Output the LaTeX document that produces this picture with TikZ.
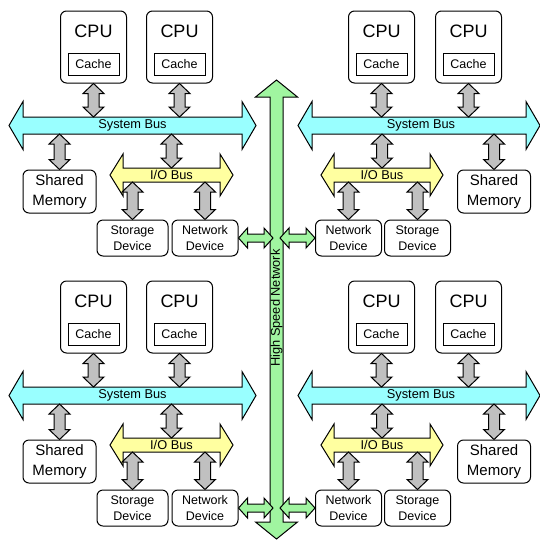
\documentclass[tikz,border=0pt]{standalone}
\usepackage{fontspec}
\setmainfont{Liberation Sans}
\usetikzlibrary{calc}

\definecolor{busCyan}{RGB}{153,255,255}
\definecolor{busYellow}{RGB}{255,255,160}
\definecolor{netGreen}{RGB}{160,245,160}
\definecolor{linkGray}{RGB}{192,192,192}

% vertical block arrow: style, x ref, top, bottom, shaft half, head half, head length
\newcommand{\vblock}[7]{%
\draw[#1] (#2|-#3) -- ($(#2|-#3)+(#6,#7)$) -- ($(#2|-#3)+(#5,#7)$) -- ($(#2|-#4)+(#5,-#7)$) -- ($(#2|-#4)+(#6,-#7)$) -- (#2|-#4) -- ($(#2|-#4)+(-#6,-#7)$) -- ($(#2|-#4)+(-#5,-#7)$) -- ($(#2|-#3)+(-#5,#7)$) -- ($(#2|-#3)+(-#6,#7)$) -- cycle;}
% horizontal block arrow: style, y ref, left, right, shaft half, head half, head length
\newcommand{\hblock}[7]{%
\draw[#1] (#3|-#2) -- ($(#3|-#2)+(#7,-#6)$) -- ($(#3|-#2)+(#7,-#5)$) -- ($(#4|-#2)+(-#7,-#5)$) -- ($(#4|-#2)+(-#7,-#6)$) -- (#4|-#2) -- ($(#4|-#2)+(-#7,#6)$) -- ($(#4|-#2)+(-#7,#5)$) -- ($(#3|-#2)+(#7,#5)$) -- ($(#3|-#2)+(#7,#6)$) -- cycle;}

\tikzset{
  cpubox/.style={draw, line width=1pt, rounded corners=6pt, fill=white, minimum width=66pt, minimum height=72pt, inner sep=0pt},
  cputext/.style={inner sep=0pt, font=\fontsize{18}{20}\selectfont},
  cachebox/.style={draw, line width=1pt, fill=white, minimum width=51pt, minimum height=22pt, inner sep=0pt, font=\fontsize{12.5}{14}\selectfont},
  membox/.style={draw, line width=1pt, rounded corners=6pt, fill=white, minimum width=73pt, minimum height=43pt, inner sep=0pt, align=center, font=\fontsize{15}{20}\selectfont},
  devbox/.style={draw, line width=1pt, rounded corners=6pt, fill=white, minimum height=36pt, inner sep=0pt, align=center, font=\fontsize{12.5}{15.5}\selectfont},
  sysbus/.style={draw, line width=1pt, fill=busCyan},
  iobus/.style={draw, line width=1pt, fill=busYellow},
  netbus/.style={draw, line width=1pt, fill=netGreen},
  link/.style={draw, line width=1pt, fill=linkGray},
  buslabel/.style={inner sep=0pt, font=\fontsize{12.8}{14}\selectfont}
}

\begin{document}
\begin{tikzpicture}[x=1pt,y=-1pt]
\useasboundingbox (0,0) rectangle (540,539);

% ---- top left node
\node[cpubox] (cpuA) at (93.5,47) {};
\node[cputext] (cpuAt) at (93.5,31) {CPU};
\node[cachebox] (cacheA) at (93.5,64) {Cache};
\node[cpubox] (cpuB) at (179.5,47) {};
\node[cputext] (cpuBt) at (179.5,31) {CPU};
\node[cachebox] (cacheB) at (179.5,64) {Cache};
\node[membox] (mem1) at (59.5,191.5) {Shared\\Memory};
\node[devbox, minimum width=71pt] (sto1) at (132.5,238) {Storage\\Device};
\node[devbox, minimum width=66pt] (net1) at (205,238) {Network\\Device};
\coordinate (sysL1) at (9,125.5);
\coordinate (sysR1) at (256,125.5);
\coordinate (sys1N) at (0,117);
\coordinate (sys1S) at (0,134);
\coordinate (ioL1) at (110,175);
\coordinate (ioR1) at (233,175);
\coordinate (io1N) at (0,168);
\coordinate (io1S) at (0,182);

% ---- top right node
\node[cpubox] (cpuC) at (381.5,47) {};
\node[cputext] (cpuCt) at (381.5,31) {CPU};
\node[cachebox] (cacheC) at (381.5,64) {Cache};
\node[cpubox] (cpuD) at (468.5,47) {};
\node[cputext] (cpuDt) at (468.5,31) {CPU};
\node[cachebox] (cacheD) at (468.5,64) {Cache};
\node[membox] (mem2) at (494,191.5) {Shared\\Memory};
\node[devbox, minimum width=66pt] (net2) at (348.5,238) {Network\\Device};
\node[devbox, minimum width=66pt] (sto2) at (417.5,238) {Storage\\Device};
\coordinate (sysL2) at (298,125.5);
\coordinate (sysR2) at (540,125.5);
\coordinate (ioL2) at (321,175);
\coordinate (ioR2) at (443,175);

% ---- bottom left node
\node[cpubox] (cpuE) at (93.5,317) {};
\node[cputext] (cpuEt) at (93.5,301) {CPU};
\node[cachebox] (cacheE) at (93.5,334) {Cache};
\node[cpubox] (cpuF) at (179.5,317) {};
\node[cputext] (cpuFt) at (179.5,301) {CPU};
\node[cachebox] (cacheF) at (179.5,334) {Cache};
\node[membox] (mem3) at (59.5,461.5) {Shared\\Memory};
\node[devbox, minimum width=71pt] (sto3) at (132.5,508) {Storage\\Device};
\node[devbox, minimum width=66pt] (net3) at (205,508) {Network\\Device};
\coordinate (sysL3) at (9,395.5);
\coordinate (sysR3) at (256,395.5);
\coordinate (sys3N) at (0,387);
\coordinate (sys3S) at (0,404);
\coordinate (ioL3) at (110,445);
\coordinate (ioR3) at (233,445);
\coordinate (io3N) at (0,438);
\coordinate (io3S) at (0,452);

% ---- bottom right node
\node[cpubox] (cpuG) at (381.5,317) {};
\node[cputext] (cpuGt) at (381.5,301) {CPU};
\node[cachebox] (cacheG) at (381.5,334) {Cache};
\node[cpubox] (cpuH) at (468.5,317) {};
\node[cputext] (cpuHt) at (468.5,301) {CPU};
\node[cachebox] (cacheH) at (468.5,334) {Cache};
\node[membox] (mem4) at (494,461.5) {Shared\\Memory};
\node[devbox, minimum width=66pt] (net4) at (348.5,508) {Network\\Device};
\node[devbox, minimum width=66pt] (sto4) at (417.5,508) {Storage\\Device};
\coordinate (sysL4) at (298,395.5);
\coordinate (sysR4) at (540,395.5);
\coordinate (ioL4) at (321,445);
\coordinate (ioR4) at (443,445);

% buses
\hblock{sysbus}{sysL1}{sysL1}{sysR1}{8.5}{24}{14}
\hblock{sysbus}{sysL2}{sysL2}{sysR2}{8.5}{24}{14}
\hblock{sysbus}{sysL3}{sysL3}{sysR3}{8.5}{24}{14}
\hblock{sysbus}{sysL4}{sysL4}{sysR4}{8.5}{24}{14}
\hblock{iobus}{ioL1}{ioL1}{ioR1}{7}{21}{13}
\hblock{iobus}{ioL2}{ioL2}{ioR2}{7}{21}{13}
\hblock{iobus}{ioL3}{ioL3}{ioR3}{7}{21}{13}
\hblock{iobus}{ioL4}{ioL4}{ioR4}{7}{21}{13}

% bus labels
\node[buslabel] (sys1) at (132.5,125.5) {System Bus};
\node[buslabel] (sys2) at (421,125.5) {System Bus};
\node[buslabel] (sys3) at (132.5,395.5) {System Bus};
\node[buslabel] (sys4) at (421,395.5) {System Bus};
\node[buslabel] (io1) at (171.5,175) {I/O Bus};
\node[buslabel] (io2) at (382,175) {I/O Bus};
\node[buslabel] (io3) at (171.5,445) {I/O Bus};
\node[buslabel] (io4) at (382,445) {I/O Bus};

% links, top half
\vblock{link}{cpuA}{cpuA.south}{sys1N}{5.5}{10.5}{10}
\vblock{link}{cpuB}{cpuB.south}{sys1N}{5.5}{10.5}{10}
\vblock{link}{cpuC}{cpuC.south}{sys1N}{5.5}{10.5}{10}
\vblock{link}{cpuD}{cpuD.south}{sys1N}{5.5}{10.5}{10}
\vblock{link}{mem1}{sys1S}{mem1.north}{5.5}{10.5}{10}
\vblock{link}{mem2}{sys1S}{mem2.north}{5.5}{10.5}{10}
\vblock{link}{io1}{sys1S}{io1N}{5.5}{10.5}{10}
\vblock{link}{io2}{sys1S}{io1N}{5.5}{10.5}{10}
\vblock{link}{sto1}{io1S}{sto1.north}{5.5}{10.5}{10}
\vblock{link}{net1}{io1S}{net1.north}{5.5}{10.5}{10}
\vblock{link}{net2}{io1S}{net2.north}{5.5}{10.5}{10}
\vblock{link}{sto2}{io1S}{sto2.north}{5.5}{10.5}{10}

% links, bottom half
\vblock{link}{cpuE}{cpuE.south}{sys3N}{5.5}{10.5}{10}
\vblock{link}{cpuF}{cpuF.south}{sys3N}{5.5}{10.5}{10}
\vblock{link}{cpuG}{cpuG.south}{sys3N}{5.5}{10.5}{10}
\vblock{link}{cpuH}{cpuH.south}{sys3N}{5.5}{10.5}{10}
\vblock{link}{mem3}{sys3S}{mem3.north}{5.5}{10.5}{10}
\vblock{link}{mem4}{sys3S}{mem4.north}{5.5}{10.5}{10}
\vblock{link}{io3}{sys3S}{io3N}{5.5}{10.5}{10}
\vblock{link}{io4}{sys3S}{io3N}{5.5}{10.5}{10}
\vblock{link}{sto3}{io3S}{sto3.north}{5.5}{10.5}{10}
\vblock{link}{net3}{io3S}{net3.north}{5.5}{10.5}{10}
\vblock{link}{net4}{io3S}{net4.north}{5.5}{10.5}{10}
\vblock{link}{sto4}{io3S}{sto4.north}{5.5}{10.5}{10}

% high speed network
\coordinate (hsnT) at (276.5,80);
\coordinate (hsnB) at (276.5,539);
\coordinate (hsnW) at (273,0);
\coordinate (hsnE) at (280,0);
\vblock{netbus}{hsnT}{hsnT}{hsnB}{6.5}{21}{17}
\node[buslabel, rotate=90] (hsn) at (276.5,308) {High Speed Network};
\hblock{netbus}{net1}{net1.east}{hsnW}{4}{10}{9}
\hblock{netbus}{net2}{hsnE}{net2.west}{4}{10}{9}
\hblock{netbus}{net3}{net3.east}{hsnW}{4}{10}{9}
\hblock{netbus}{net4}{hsnE}{net4.west}{4}{10}{9}

\end{tikzpicture}
\end{document}
